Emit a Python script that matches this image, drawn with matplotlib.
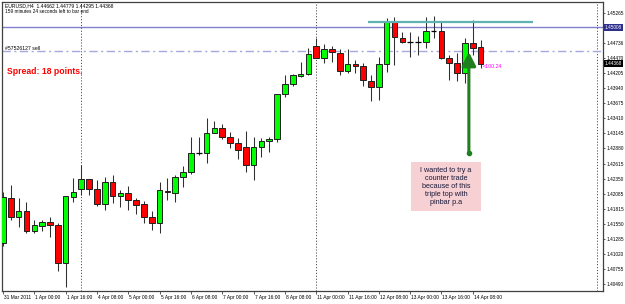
import matplotlib
matplotlib.use('Agg')
import matplotlib.pyplot as plt
import matplotlib.transforms as mtransforms
from matplotlib.patches import Rectangle, FancyArrowPatch

plt.rcParams['font.family'] = ['Liberation Sans', 'DejaVu Sans']

# EURUSD H4, bars from 31 Mar 2011 08:00 to 14 Apr 2011 12:00
opens = [1.41218, 1.42009, 1.41675, 1.41781, 1.41429, 1.41517, 1.41587, 1.41535,
         1.40867, 1.42027, 1.42167, 1.42343, 1.42167, 1.41904, 1.42290, 1.42044,
         1.42097, 1.41974, 1.41904, 1.41675, 1.41570, 1.42132, 1.42097, 1.42378,
         1.42466, 1.42800, 1.42800, 1.43151, 1.43239, 1.43081, 1.42976, 1.42905,
         1.42589, 1.42905, 1.43011, 1.43046, 1.43836, 1.44012, 1.44153, 1.44188,
         1.44680, 1.44469, 1.44627, 1.44557, 1.44241, 1.44364, 1.44328, 1.44065,
         1.43959, 1.44364, 1.45102, 1.44820, 1.44750, 1.44750, 1.44750, 1.44943,
         1.44943, 1.44469, 1.44381, 1.44205, 1.44733, 1.44662]
highs = [1.42115, 1.42237, 1.42009, 1.41939, 1.41623, 1.41623, 1.41675, 1.41570,
         1.42044, 1.42360, 1.42589, 1.42343, 1.42325, 1.42378, 1.42413, 1.42150,
         1.42220, 1.42009, 1.41956, 1.41781, 1.42290, 1.42360, 1.42413, 1.42571,
         1.43081, 1.43081, 1.43415, 1.43362, 1.43309, 1.43169, 1.43063, 1.43186,
         1.43081, 1.43063, 1.43081, 1.43836, 1.44170, 1.44188, 1.44399, 1.44645,
         1.44820, 1.44715, 1.44680, 1.44627, 1.44627, 1.44434, 1.44381, 1.44170,
         1.44487, 1.45172, 1.45189, 1.44926, 1.44926, 1.44856, 1.45189, 1.45207,
         1.45102, 1.44522, 1.44557, 1.44820, 1.45137, 1.44779]
lows = [1.41166, 1.41623, 1.41500, 1.41394, 1.41394, 1.41429, 1.41324, 1.40726,
        1.40445, 1.41939, 1.42062, 1.42062, 1.41869, 1.41798, 1.41921, 1.41851,
        1.41798, 1.41728, 1.41570, 1.41447, 1.41394, 1.41974, 1.41939, 1.42202,
        1.42431, 1.42765, 1.42624, 1.43151, 1.43046, 1.42888, 1.42694, 1.42466,
        1.42325, 1.42729, 1.42817, 1.42993, 1.43784, 1.43977, 1.44135, 1.44170,
        1.44469, 1.44381, 1.44399, 1.44170, 1.44205, 1.44205, 1.43977, 1.43713,
        1.43731, 1.44223, 1.44346, 1.44733, 1.44487, 1.44522, 1.44645, 1.44820,
        1.44451, 1.44082, 1.44065, 1.44030, 1.44522, 1.44295]
closes = [1.42027, 1.41675, 1.41781, 1.41429, 1.41535, 1.41587, 1.41535, 1.40867,
          1.42044, 1.42115, 1.42343, 1.42167, 1.41904, 1.42290, 1.42044, 1.42097,
          1.41974, 1.41886, 1.41675, 1.41570, 1.42150, 1.42115, 1.42378, 1.42466,
          1.42800, 1.42800, 1.43151, 1.43239, 1.43081, 1.42976, 1.42852, 1.42589,
          1.42905, 1.43011, 1.43046, 1.43836, 1.44012, 1.44170, 1.44188, 1.44539,
          1.44469, 1.44627, 1.44574, 1.44241, 1.44364, 1.44328, 1.44082, 1.43959,
          1.44364, 1.45102, 1.44838, 1.44750, 1.44750, 1.44750, 1.44943, 1.44943,
          1.44469, 1.44381, 1.44205, 1.44733, 1.44645, 1.44368]

date_labels = ['31 Mar 2011', '1 Apr 00:00', '1 Apr 16:00', '4 Apr 08:00', '5 Apr 00:00',
               '5 Apr 16:00', '6 Apr 08:00', '7 Apr 00:00', '7 Apr 16:00', '8 Apr 08:00',
               '11 Apr 00:00', '11 Apr 16:00', '12 Apr 08:00', '13 Apr 00:00',
               '13 Apr 16:00', '14 Apr 08:00']
price_ticks = [1.45265, 1.44736, 1.44470, 1.44205, 1.43940, 1.43675, 1.43410, 1.43145,
               1.42880, 1.42615, 1.42350, 1.42085, 1.41815, 1.41550, 1.41285, 1.41020,
               1.40755, 1.40490]

header = 'EURUSD,H4  1.44662 1.44779 1.44295 1.44368'
timer_text = '159 minutes 24 seconds left to bar end'
spread_text = 'Spread: 18 points.'
note_text = 'I wanted to try a\ncounter trade\nbecause of this\ntriple top with\npinbar p.a'
profit_text = '<100.24'

blue_level = 1.45008
order_level = 1.44597
order_label = '#57526127 sell'
top_level = 1.45110        # teal line over the triple top
top_from, top_to = 46.6, 67.7
last_price = 1.44368
week_seps = [10, 40]
shift_line = 75.9
arrow_bar = 59.5
arrow_from, arrow_to = 1.42800, 1.44574

fig = plt.figure(figsize=(6.25, 3.04), dpi=100)
ax = fig.add_axes([2/625, 13/304, 601/625, 289/304])
ax.set_xlim(-0.128, 76.63)
ax.set_ylim(1.40375, 1.45453)

# candles
for i in range(len(opens)):
    o, h, l, c = opens[i], highs[i], lows[i], closes[i]
    ax.vlines(i, l, h, color='#303030', lw=0.75, zorder=2)
    if abs(c - o) < 1e-6:
        ax.hlines(o, i - 0.36, i + 0.36, color='black', lw=0.9, zorder=3)
    else:
        col = '#00ff00' if c > o else '#ff0000'
        ax.add_patch(Rectangle((i - 0.36, min(o, c)), 0.72, abs(c - o),
                               facecolor=col, edgecolor='#202020', lw=0.7, zorder=3))

# separators and levels
for s in week_seps:
    ax.axvline(s, color='#505050', lw=0.7, ls=(0, (1.2, 1.8)), zorder=1)
ax.axvline(shift_line, color='#505050', lw=0.7, ls=(0, (1.2, 1.8)), zorder=1)
ax.axhline(blue_level, color='#8080d0', lw=1.0, zorder=1)
ax.axhline(order_level, color='#a8a8e0', lw=1.0, ls=(0, (6, 2.5, 1.5, 2.5)), zorder=1)
ax.hlines(top_level, top_from, top_to, color='#5fb3b3', lw=1.6, zorder=4)

trans = mtransforms.blended_transform_factory(ax.transAxes, ax.transData)
ax.text(0.005, order_level, order_label, transform=trans, fontsize=3.7,
        va='bottom', ha='left', color='black')

# x axis
ax.set_xticks(range(0, 4 * len(date_labels), 4))
ax.set_xticklabels(date_labels, fontsize=3.5, ha='left')
ax.tick_params(axis='x', length=2, width=0.6, pad=1, color='#404040')
for lab in ax.get_xticklabels():
    lab.set_transform(lab.get_transform() + mtransforms.ScaledTranslation(1/100, 0, fig.dpi_scale_trans))

# y axis on the right
ax.yaxis.tick_right()
ax.set_yticks(price_ticks)
ax.set_yticklabels(['%.5f' % p for p in price_ticks], fontsize=3.4)
ax.tick_params(axis='y', length=1.5, width=0.6, pad=0.8, color='#404040')

for sp in ax.spines.values():
    sp.set_color('#404040')
    sp.set_linewidth(0.9)

ax.text(1.003, blue_level, '%.5f' % blue_level, transform=trans, fontsize=3.4,
        va='center', ha='left', color='white',
        bbox=dict(boxstyle='square,pad=0.2', fc='#2e2e8c', ec='none'))
ax.text(1.003, last_price, '%.5f' % last_price, transform=trans, fontsize=3.4,
        va='center', ha='left', color='white',
        bbox=dict(boxstyle='square,pad=0.2', fc='black', ec='none'))

# header texts
ax.text(0.005, 0.988, header, transform=ax.transAxes, fontsize=3.6, va='center', ha='left')
ax.text(0.005, 0.967, timer_text, transform=ax.transAxes, fontsize=3.4, va='center', ha='left')
ax.text(0.0083, 0.761, spread_text, transform=ax.transAxes, fontsize=6.2,
        fontweight='bold', color='#ff0000', va='center', ha='left')

ax.text(len(opens) - 0.7, 1.44315, profit_text, fontsize=3.8, color='#ff00ff',
        va='center', ha='left', zorder=5)

# green arrow and note
arr = FancyArrowPatch((arrow_bar, arrow_from), (arrow_bar, arrow_to),
                      arrowstyle='-|>,head_length=0.55,head_width=0.28',
                      mutation_scale=15, color='#1f7f1f', lw=2.2, zorder=6,
                      shrinkA=0, shrinkB=0)
ax.add_patch(arr)
ax.plot([arrow_bar], [arrow_from], 'o', color='#1f7f1f', ms=3, zorder=6)

ax.add_patch(Rectangle((0.6805, 0.2768), 0.1165, 0.1696, transform=ax.transAxes,
                       facecolor='#f7d0d3', edgecolor='none', zorder=5))
ax.text(0.739, 0.3616, note_text, transform=ax.transAxes, fontsize=5.2,
        ha='center', va='center', color='#1a1a3a', linespacing=1.2, zorder=6)

fig.savefig('out.png', dpi=100, facecolor='white')
